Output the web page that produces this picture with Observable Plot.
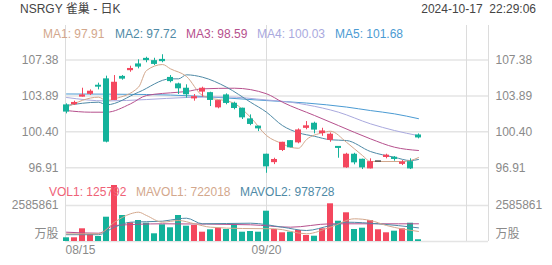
<!DOCTYPE html>
<html><head><meta charset="utf-8">
<script src="https://cdn.jsdelivr.net/npm/d3@7"></script>
<script src="https://cdn.jsdelivr.net/npm/@observablehq/plot@0.6"></script>
<style>
html,body{margin:0;padding:0;background:#fff;}
#wrap{position:relative;width:552px;height:265px;overflow:hidden;font-family:"Liberation Sans",Arial,"Noto Sans CJK SC",sans-serif;}
.t{position:absolute;font-size:12px;line-height:14px;white-space:pre;z-index:5;}
#price,#vol{position:absolute;left:0;}
#price{top:25px;} #vol{top:185px;}
</style></head>
<body><div id="wrap"><div id="price"></div><div id="vol"></div></div>
<script>
// ---------- data ----------
const title = "NSRGY 雀巢 - 日K";
const stamp = "2024-10-17  22:29:06";
const dates = ["08/15","08/16","08/19","08/20","08/21","08/22","08/23","08/26","08/27","08/28","08/29","08/30","09/03","09/04","09/05","09/06","09/09","09/10","09/11","09/12","09/13","09/16","09/17","09/18","09/19","09/20","09/23","09/24","09/25","09/26","09/27","09/30","10/01","10/02","10/03","10/04","10/07","10/08","10/09","10/10","10/11","10/14","10/15","10/16","10/17"];
const open  = [102.96,103.10,103.83,104.10,104.87,105.49,103.51,105.73,106.40,106.94,107.48,107.26,107.38,105.63,105.00,104.58,103.66,104.32,104.15,102.79,103.93,103.12,102.64,101.60,100.90,98.17,97.47,98.65,99.49,99.39,100.80,101.18,100.29,99.63,98.93,96.96,98.17,97.68,96.86,97.52,97.97,97.88,97.30,97.45,100.04];
const high  = [103.12,103.38,104.64,104.48,105.13,105.81,105.87,105.87,106.78,107.40,107.65,107.55,107.89,105.87,105.13,104.97,104.03,104.74,104.25,103.45,104.09,103.28,102.70,102.05,100.95,98.23,97.84,99.39,99.55,100.69,101.40,101.34,100.75,100.30,98.95,98.32,98.32,97.75,97.78,97.52,98.23,98.00,97.61,97.78,100.20];
const low   = [102.15,102.96,103.78,103.93,104.48,99.33,103.44,105.42,106.19,106.52,107.11,106.85,107.11,105.16,104.03,103.67,103.38,103.77,102.86,102.64,103.03,102.54,101.60,101.00,100.43,96.38,97.22,98.49,98.85,99.24,100.60,100.21,99.97,99.39,97.84,96.86,97.20,96.74,96.80,97.52,97.78,97.55,97.13,96.74,99.72];
const close = [102.38,103.20,103.93,104.29,104.80,99.46,105.16,105.58,106.50,106.75,107.38,107.01,107.28,105.34,104.64,104.06,103.76,104.58,103.51,103.38,103.22,102.73,101.82,101.18,100.75,97.06,97.66,99.33,98.91,100.53,100.93,100.63,100.43,100.11,98.85,98.17,97.45,96.96,97.45,97.52,98.08,97.78,97.41,96.86,99.87];
const volume = [265800,265800,912200,502800,359200,1745500,4022500,1867600,1343200,1508400,1314500,553100,1199600,984100,1867600,1099000,1149300,668000,840400,955300,862000,1199600,668000,718300,668000,2176500,862000,624900,668000,790100,431000,380700,912200,2708000,1458100,2061500,862000,955300,1508400,840400,624900,739800,912200,1314500,125792];
// moving averages: [day index, value]
const ma1 = [[0,102.79],[4,103.77],[5,103.44],[6,103.61],[9,104.74],[10,106.36],[12,106.94],[13,106.52],[15,105.78],[17,103.93],[21,103.15],[23,101.82],[25,100.04],[27,99.24],[28,98.91],[29,98.81],[30,99.65],[32,100.31],[33,100.46],[35,99.39],[37,98.10],[38,97.52],[42,97.52],[43,97.61],[44,97.91]];
const ma2 = [[0,102.96],[4,103.28],[5,103.03],[9,104.25],[13,105.55],[14,105.55],[15,105.94],[17,105.71],[20,104.74],[23,103.28],[25,102.31],[27,101.01],[29,100.31],[31,99.97],[33,99.63],[35,99.56],[38,98.49],[41,97.93],[43,97.61],[44,97.72]];
const ma3 = [[0,102.47],[3,102.31],[5,102.31],[8,103.12],[10,103.93],[14,104.25],[15,104.32],[17,104.58],[21,104.64],[25,104.10],[27,103.28],[31,101.99],[34,101.01],[38,99.72],[41,98.91],[44,98.59]];
const ma4 = [[0,103.74],[5,103.40],[10,103.54],[15,103.74],[20,103.79],[25,103.50],[28,103.28],[30,103.03],[34,102.31],[38,101.18],[41,100.53],[44,100.03]];
const ma5 = [[0,104.08],[10,104.03],[16,103.88],[20,103.69],[25,103.44],[30,103.20],[35,102.81],[38,102.47],[41,102.15],[44,101.68]];
const mavol1 = [[0,553100],[4,553100],[6,1386300],[8,1989700],[9,2104600],[10,1867600],[12,1386300],[14,1508400],[16,1271400],[18,1027200],[22,933800],[26,912200],[30,553100],[33,1027200],[36,1630500],[38,1508400],[40,1149300],[44,722018]];
const mavol2 = [[0,488600],[4,488600],[6,1027200],[8,1386300],[12,1458100],[14,1630500],[15,1673000],[17,1271400],[23,1314500],[27,1027200],[30,790100],[33,1149300],[35,1386300],[39,1271400],[44,978728]];
const mavol3 = [[0,667900],[4,596000],[6,1149300],[12,1271400],[23,1200000],[28,1027200],[33,1271400],[39,1271400],[44,1271400]];
const maLabels = ["MA1","MA2","MA3","MA4","MA5"];
const maLast = ["97.91","97.72","98.59","100.03","101.68"];
const volLabels = ["VOL1","MAVOL1","MAVOL2"];
const volLast = ["125792","722018","978728"];
const priceTicks = [96.91, 100.40, 103.89, 107.38];
const volTicks = [2585861];
const volUnit = "万股";
const xTickLabels = ["08/15","09/20"];
const vGridIdx = [25, 50];

// ---------- styles ----------
const RED = "#f4475e", TEAL = "#14b29b", FLAT = "#333333";
const maColors = ["#d3a78c","#4f8aa6","#b6508d","#a9a9de","#4b9bd3"];
const volColors = ["#ef6277","#d3a78c","#4f8aa6"];
const mavolColors = ["#d3a78c","#4f8aa6","#b6508d"];
const GRID = "#e4e4e4", VLINE = "#dcdcdc", LABEL = "#8a8a8a";
const FONT = '"Liberation Sans",Arial,"Noto Sans CJK SC",sans-serif';

const candles = dates.map((d, i) => ({i, date: d, open: open[i], high: high[i], low: low[i], close: close[i], vol: volume[i]}));
const col = d => d.close > d.open ? RED : d.close < d.open ? TEAL : FLAT;
const volCol = d => d.close >= d.open ? RED : TEAL;
const xDomain = [-0.125, 52.75];
const half = 0.375;
const common = {width: 552, marginLeft: 65, marginRight: 64, x: {domain: xDomain, axis: null}, color: {type: "identity"},
  style: {fontFamily: FONT, fontSize: "12px", color: LABEL, background: "transparent", overflow: "visible"}};

const price = Plot.plot({
  ...common, height: 160, marginTop: 0, marginBottom: 0,
  y: {domain: [95.191, 110.731], axis: null},
  marks: [
    Plot.ruleY(priceTicks, {stroke: GRID, strokeWidth: 1.5}),
    Plot.ruleX(vGridIdx, {stroke: VLINE}),
    Plot.ruleX(xDomain, {stroke: VLINE}),
    Plot.axisY(priceTicks, {anchor: "left", label: null, tickSize: 0, tickPadding: 7, tickFormat: d => d.toFixed(2), fill: LABEL}),
    Plot.axisY(priceTicks, {anchor: "right", label: null, tickSize: 0, tickPadding: 7, tickFormat: d => d.toFixed(2), fill: LABEL}),
    ...[ma5, ma4, ma3, ma2, ma1].map((m, k) => Plot.line(m, {x: d => d[0], y: d => d[1], stroke: maColors[4 - k], strokeWidth: 1, curve: "monotone-x"})),
    Plot.ruleX(candles, {x: "i", y1: "low", y2: "high", stroke: col, strokeWidth: 1}),
    Plot.rect(candles, {x1: d => d.i - half, x2: d => d.i + half, y1: "open", y2: "close", fill: col, insetTop: -0.6, insetBottom: -0.6})
  ]
});
document.getElementById("price").append(price);

const vol = Plot.plot({
  ...common, height: 80, marginTop: 0, marginBottom: 24,
  y: {domain: [0, d3.max(volume)], axis: null},
  marks: [
    Plot.ruleY([0, ...volTicks], {stroke: GRID, strokeWidth: 1.5}),
    Plot.ruleX(vGridIdx, {stroke: VLINE}),
    Plot.ruleX(xDomain, {stroke: VLINE}),
    Plot.rect(candles, {x1: d => d.i - half, x2: d => d.i + half, y1: 0, y2: "vol", fill: volCol}),
    ...[mavol3, mavol2, mavol1].map((m, k) => Plot.line(m, {x: d => d[0], y: d => d[1], stroke: mavolColors[2 - k], strokeWidth: 1, curve: "monotone-x"})),
    Plot.axisY(volTicks, {anchor: "left", label: null, tickSize: 0, tickPadding: 7, tickFormat: d => String(d), fill: LABEL}),
    Plot.axisY(volTicks, {anchor: "right", label: null, tickSize: 0, tickPadding: 7, tickFormat: d => String(d), fill: LABEL}),
    Plot.text([volUnit], {frameAnchor: "bottom-left", text: d => d, textAnchor: "end", dx: -7, dy: -4, fill: LABEL}),
    Plot.text([volUnit], {frameAnchor: "bottom-right", text: d => d, textAnchor: "start", dx: 7, dy: -4, fill: LABEL}),
    Plot.axisX([dates.indexOf(xTickLabels[0])], {anchor: "bottom", label: null, tickSize: 0, tickPadding: 4, textAnchor: "start", dx: -1, tickFormat: i => dates[i], fill: LABEL}),
    Plot.axisX(xTickLabels.slice(1).map(l => dates.indexOf(l)), {anchor: "bottom", label: null, tickSize: 0, tickPadding: 4, tickFormat: i => dates[i], fill: LABEL})
  ]
});
document.getElementById("vol").append(vol);

// ---------- html texts ----------
const wrap = document.getElementById("wrap");
function addText(txt, css, color) {
  const el = document.createElement("div");
  el.className = "t"; el.textContent = txt; el.style.cssText += css; el.style.color = color;
  wrap.append(el);
}
addText(title, "left:20px;top:2px;", "#444");
addText(stamp, "right:16px;top:2px;", "#444");
const maX = [43, 115, 186, 257, 335];
maLabels.forEach((l, k) => addText(l + ": " + maLast[k], `left:${maX[k]}px;top:27px;`, maColors[k]));
const volX = [49, 136, 240];
volLabels.forEach((l, k) => addText(l + ": " + volLast[k], `left:${volX[k]}px;top:185px;`, volColors[k]));
</script></body></html>
